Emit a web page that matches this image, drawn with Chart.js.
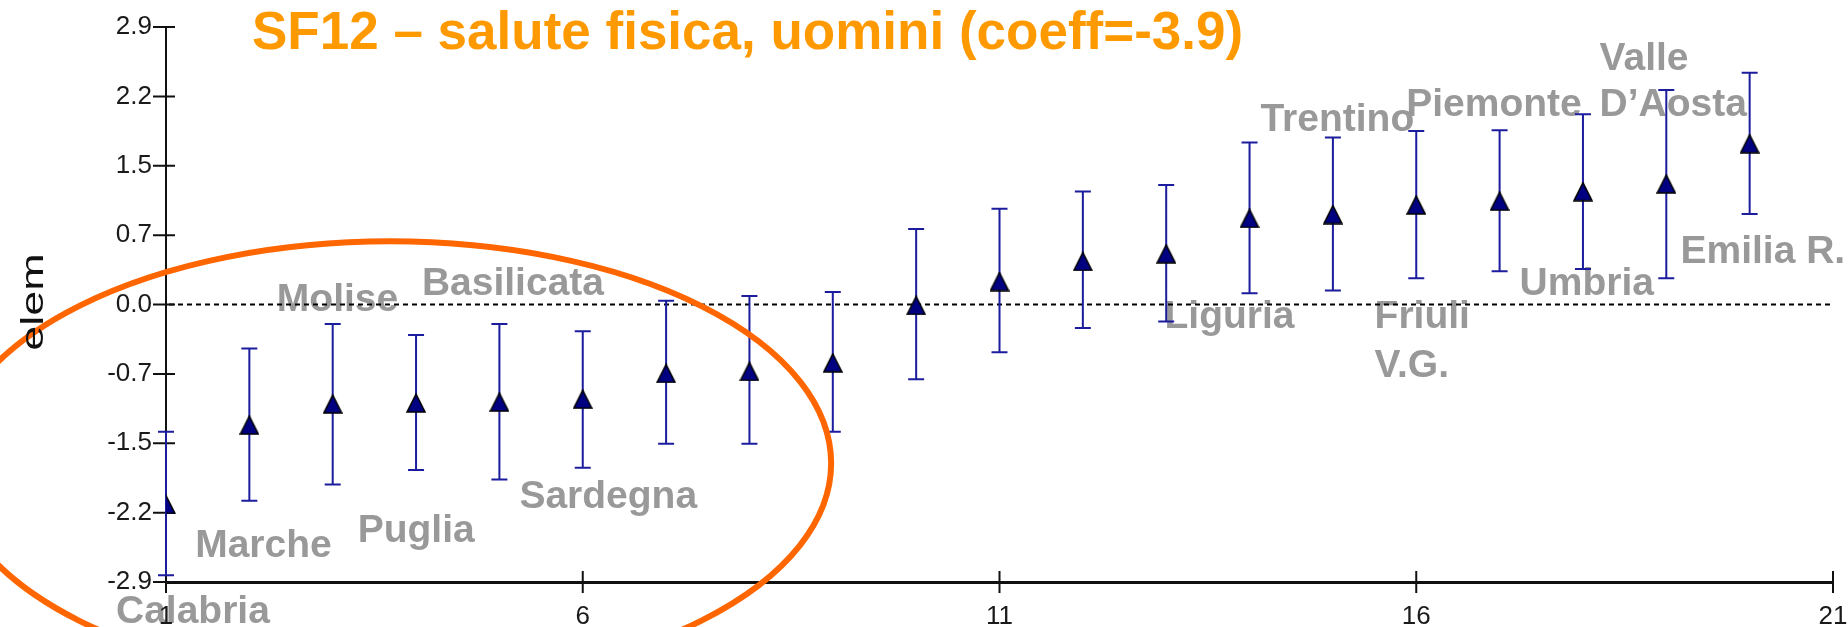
<!DOCTYPE html>
<html>
<head>
<meta charset="utf-8">
<title>SF12 – salute fisica, uomini</title>
<script src="https://cdn.jsdelivr.net/npm/chart.js@4.4.1/dist/chart.umd.min.js"></script>
<style>
  html, body { margin: 0; padding: 0; background: #fff; }
  #wrap { width: 1848px; height: 627px; position: relative; }
</style>
</head>
<body>
<div id="wrap"><canvas id="chart"></canvas></div>
<script>
// regional effects (ordered), point estimate and interval ends
const positions = [1, 2, 3, 4, 5, 6, 7, 8, 9, 10, 11, 12, 13, 14, 15, 16, 17, 18, 19, 20];
const means = [-2.09, -1.26, -1.04, -1.03, -1.02, -0.99, -0.72, -0.70, -0.61, -0.01,
               0.24, 0.45, 0.53, 0.90, 0.94, 1.04, 1.08, 1.18, 1.26, 1.68];
const lower = [-2.83, -2.05, -1.88, -1.73, -1.83, -1.705, -1.455, -1.455, -1.33, -0.78,
               -0.50, -0.245, -0.177, 0.118, 0.146, 0.275, 0.348, 0.372, 0.275, 0.945];
const upper = [-1.33, -0.46, -0.205, -0.32, -0.205, -0.28, 0.04, 0.09, 0.13, 0.79,
               1.00, 1.18, 1.248, 1.693, 1.745, 1.814, 1.821, 1.988, 2.242, 2.423];

const xTicks = [1, 6, 11, 16, 21];
const yTickValues = [-2.9, -2.175, -1.45, -0.725, 0, 0.725, 1.45, 2.175, 2.9];
const yTickLabels = ['-2.9', '-2.2', '-1.5', '-0.7', '0.0', '0.7', '1.5', '2.2', '2.9'];

const titleText = 'SF12 – salute fisica, uomini (coeff=-3.9)';
const yTitle = 'elem';

// region names and where they sit (data units, left/baseline)
const regionNames = ['Calabria', 'Marche', 'Puglia', 'Sardegna', 'Molise', 'Basilicata',
                     'Liguria', 'Friuli', 'V.G.', 'Trentino', 'Piemonte', 'Valle', 'D’Aosta',
                     'Emilia R.', 'Umbria'];
const regionX = [0.40, 1.35, 3.30, 5.24, 2.33, 4.07, 12.98, 15.50, 15.50, 14.13, 15.88, 18.20, 18.20, 19.17, 17.24];
const regionY = [-3.33, -2.64, -2.48, -2.13, -0.07, 0.10, -0.25, -0.25, -0.76, 1.81, 1.97, 2.45, 1.97, 0.43, 0.10];

// highlight ellipse, data units
const ringCx = 3.69, ringCy = -1.66, ringRx = 5.29, ringRy = 2.32;

const FONT = '"Liberation Sans", Arial, sans-serif';

function makeTriangle() {
  const c = document.createElement('canvas');
  c.width = 20; c.height = 20;
  const g = c.getContext('2d');
  g.beginPath();
  g.moveTo(10, 1); g.lineTo(19, 19); g.lineTo(1, 19); g.closePath();
  g.fillStyle = '#000080'; g.fill();
  g.lineWidth = 1.5; g.strokeStyle = '#000'; g.stroke();
  return c;
}

const decor = {
  id: 'decor',
  beforeDraw(chart) {
    const { ctx, scales: { x, y } } = chart;
    ctx.save();
    ctx.font = 'bold 39px ' + FONT;
    ctx.fillStyle = '#999999';
    ctx.textBaseline = 'alphabetic';
    regionNames.forEach((name, i) => {
      ctx.fillText(name, x.getPixelForValue(regionX[i]), y.getPixelForValue(regionY[i]));
    });
    ctx.restore();
  },
  beforeDatasetsDraw(chart) {
    const { ctx, chartArea: a, scales: { x, y } } = chart;
    ctx.save();
    // zero line
    const y0 = y.getPixelForValue(0);
    ctx.setLineDash([5, 4]);
    ctx.lineWidth = 2;
    ctx.strokeStyle = '#000';
    ctx.beginPath();
    ctx.moveTo(a.left + 3, y0);
    ctx.lineTo(x.getPixelForValue(21) - 3, y0);
    ctx.stroke();
    ctx.setLineDash([]);
    // tick marks crossing the axes
    ctx.lineWidth = 2;
    ctx.strokeStyle = '#111';
    ctx.beginPath();
    yTickValues.forEach(v => {
      const py = y.getPixelForValue(v);
      ctx.moveTo(a.left - 13, py); ctx.lineTo(a.left + 9, py);
    });
    xTicks.forEach(v => {
      const px = x.getPixelForValue(v);
      ctx.moveTo(px, a.bottom - 11); ctx.lineTo(px, a.bottom + 11);
    });
    ctx.stroke();
    // error bars
    ctx.strokeStyle = '#1c1c9e';
    ctx.lineWidth = 2;
    ctx.beginPath();
    positions.forEach((p, i) => {
      const px = x.getPixelForValue(p);
      const lo = y.getPixelForValue(lower[i]);
      const hi = y.getPixelForValue(upper[i]);
      ctx.moveTo(px, lo); ctx.lineTo(px, hi);
      ctx.moveTo(px - 8, lo); ctx.lineTo(px + 8, lo);
      ctx.moveTo(px - 8, hi); ctx.lineTo(px + 8, hi);
    });
    ctx.stroke();
    ctx.restore();
  },
  afterDraw(chart) {
    const { ctx, scales: { x, y } } = chart;
    ctx.save();
    // orange ring
    const cx = x.getPixelForValue(ringCx), cy = y.getPixelForValue(ringCy);
    const rx = x.getPixelForValue(ringCx + ringRx) - cx;
    const ry = cy - y.getPixelForValue(ringCy + ringRy);
    ctx.strokeStyle = '#FF6600';
    ctx.lineWidth = 6;
    ctx.beginPath();
    ctx.ellipse(cx, cy, rx, ry, 0, 0, Math.PI * 2);
    ctx.stroke();
    // y title, stretched like the original
    ctx.save();
    ctx.translate(43, 302);
    ctx.rotate(-Math.PI / 2);
    ctx.scale(1.45, 1);
    ctx.font = '31px ' + FONT;
    ctx.fillStyle = '#111';
    ctx.textAlign = 'center';
    ctx.textBaseline = 'alphabetic';
    ctx.fillText(yTitle, 0, 0);
    ctx.restore();
    // title
    ctx.font = 'bold 53px ' + FONT;
    ctx.fillStyle = '#FF9900';
    ctx.textBaseline = 'alphabetic';
    ctx.fillText(titleText, 252, 49);
    ctx.restore();
  }
};

new Chart(document.getElementById('chart'), {
  type: 'scatter',
  data: {
    datasets: [{
      data: positions.map((p, i) => ({ x: p, y: means[i] })),
      pointStyle: makeTriangle(),
      pointRadius: 10,
      showLine: false
    }]
  },
  options: {
    responsive: true,
    maintainAspectRatio: false,
    animation: false,
    layout: { padding: { left: 0, right: 15, top: 27, bottom: 0 } },
    plugins: { legend: { display: false }, tooltip: { enabled: false } },
    scales: {
      x: {
        type: 'linear', min: 1, max: 21,
        afterBuildTicks: s => { s.ticks = xTicks.map(v => ({ value: v })); },
        afterFit: s => { s.height = 45; s.paddingRight = 0; s.paddingLeft = 0; },
        grid: { display: false, drawTicks: false },
        border: { display: true, color: '#111', width: 3 },
        ticks: { color: '#1a1a1a', font: { family: FONT, size: 26 }, padding: 19, maxRotation: 0, autoSkip: false }
      },
      y: {
        type: 'linear', min: -2.9, max: 2.9,
        afterBuildTicks: s => { s.ticks = yTickValues.map(v => ({ value: v })); },
        afterFit: s => { s.width = 166; s.paddingTop = 0; s.paddingBottom = 0; },
        grid: { display: false, drawTicks: false },
        border: { display: true, color: '#111', width: 2 },
        ticks: {
          color: '#1a1a1a', font: { family: FONT, size: 26 }, padding: 14, autoSkip: false,
          callback: (v, i) => yTickLabels[i]
        }
      }
    }
  },
  plugins: [decor]
});
</script>
</body>
</html>
